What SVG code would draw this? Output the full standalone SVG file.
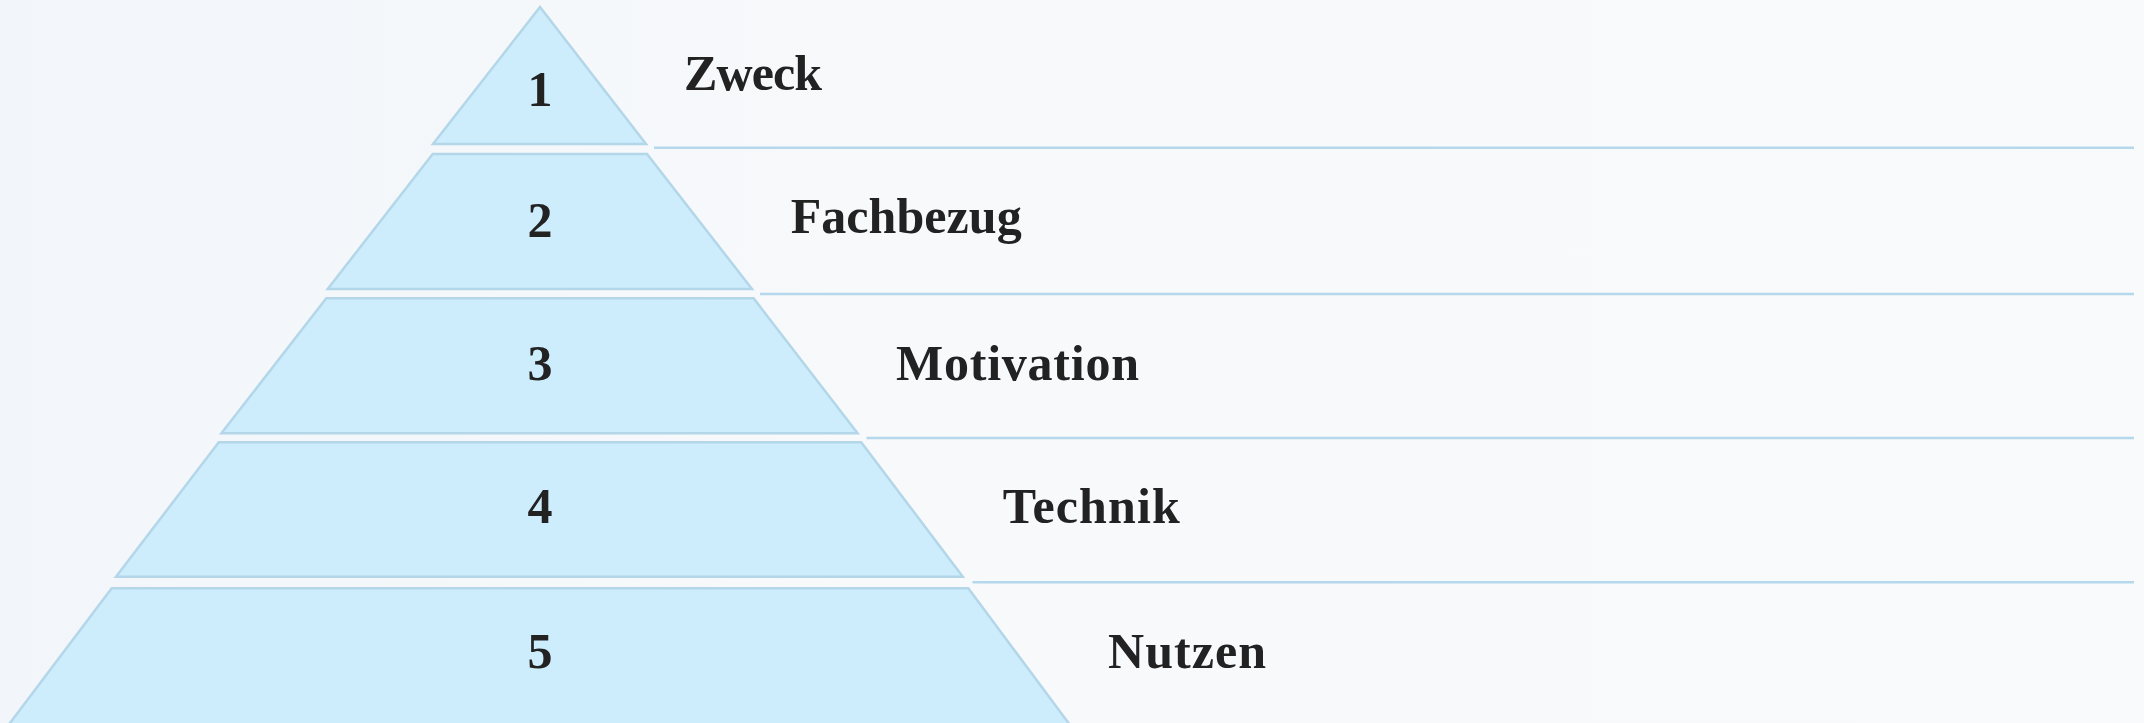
<svg xmlns="http://www.w3.org/2000/svg" width="2144" height="723" viewBox="0 0 2144 723">
  <defs>
    <linearGradient id="bg" x1="0" y1="0" x2="1" y2="0">
      <stop offset="0" stop-color="#f2f6fa"/>
      <stop offset="0.4" stop-color="#f7f9fb"/>
      <stop offset="1" stop-color="#f9fafb"/>
    </linearGradient>
    <style>
      .tier { fill: #cdedfd; stroke: #b3d6e8; stroke-width: 2.5; stroke-linejoin: miter; }
      .sep { stroke: #b5d8ec; stroke-width: 2.5; fill: none; }
      .num { font-family: "Liberation Serif", "DejaVu Serif", serif; font-weight: bold; font-size: 50px; fill: #222222; text-anchor: middle; }
      .lbl { font-family: "Liberation Serif", "DejaVu Serif", serif; font-weight: bold; font-size: 50px; fill: #222222; }
    </style>
  </defs>
  <rect x="0" y="0" width="2144" height="723" fill="url(#bg)"/>

  <g id="connectors">
    <line class="sep" x1="654" y1="147.7" x2="2134" y2="147.7"/>
    <line class="sep" x1="760" y1="294" x2="2134" y2="294"/>
    <line class="sep" x1="866.5" y1="438" x2="2134" y2="438"/>
    <line class="sep" x1="972.5" y1="582.3" x2="2134" y2="582.3"/>
  </g>

  <g id="tier1">
    <polygon class="tier" points="540,7 646,144 433,144"/>
    <text class="num" x="540" y="106">1</text>
    <text class="lbl" x="684" y="90" textLength="138" lengthAdjust="spacing">Zweck</text>
  </g>
  <g id="tier2">
    <polygon class="tier" points="432.7,154 647,154 752,289 327.7,289"/>
    <text class="num" x="540" y="236.7">2</text>
    <text class="lbl" x="790.7" y="233.3" textLength="231" lengthAdjust="spacing">Fachbezug</text>
  </g>
  <g id="tier3">
    <polygon class="tier" points="326.3,298.3 753.6,298.3 857.6,433.3 221.4,433.3"/>
    <text class="num" x="540" y="380">3</text>
    <text class="lbl" x="896" y="380" textLength="243" lengthAdjust="spacing">Motivation</text>
  </g>
  <g id="tier4">
    <polygon class="tier" points="218.8,442.3 861.2,442.3 962.8,576.7 116,576.7"/>
    <text class="num" x="540" y="523.3">4</text>
    <text class="lbl" x="1002.7" y="523.3" textLength="177" lengthAdjust="spacing">Technik</text>
  </g>
  <g id="tier5">
    <polygon class="tier" points="111.7,588.3 968.3,588.3 1070,725 8.5,725"/>
    <text class="num" x="540" y="668">5</text>
    <text class="lbl" x="1108" y="668" textLength="158" lengthAdjust="spacing">Nutzen</text>
  </g>
</svg>
